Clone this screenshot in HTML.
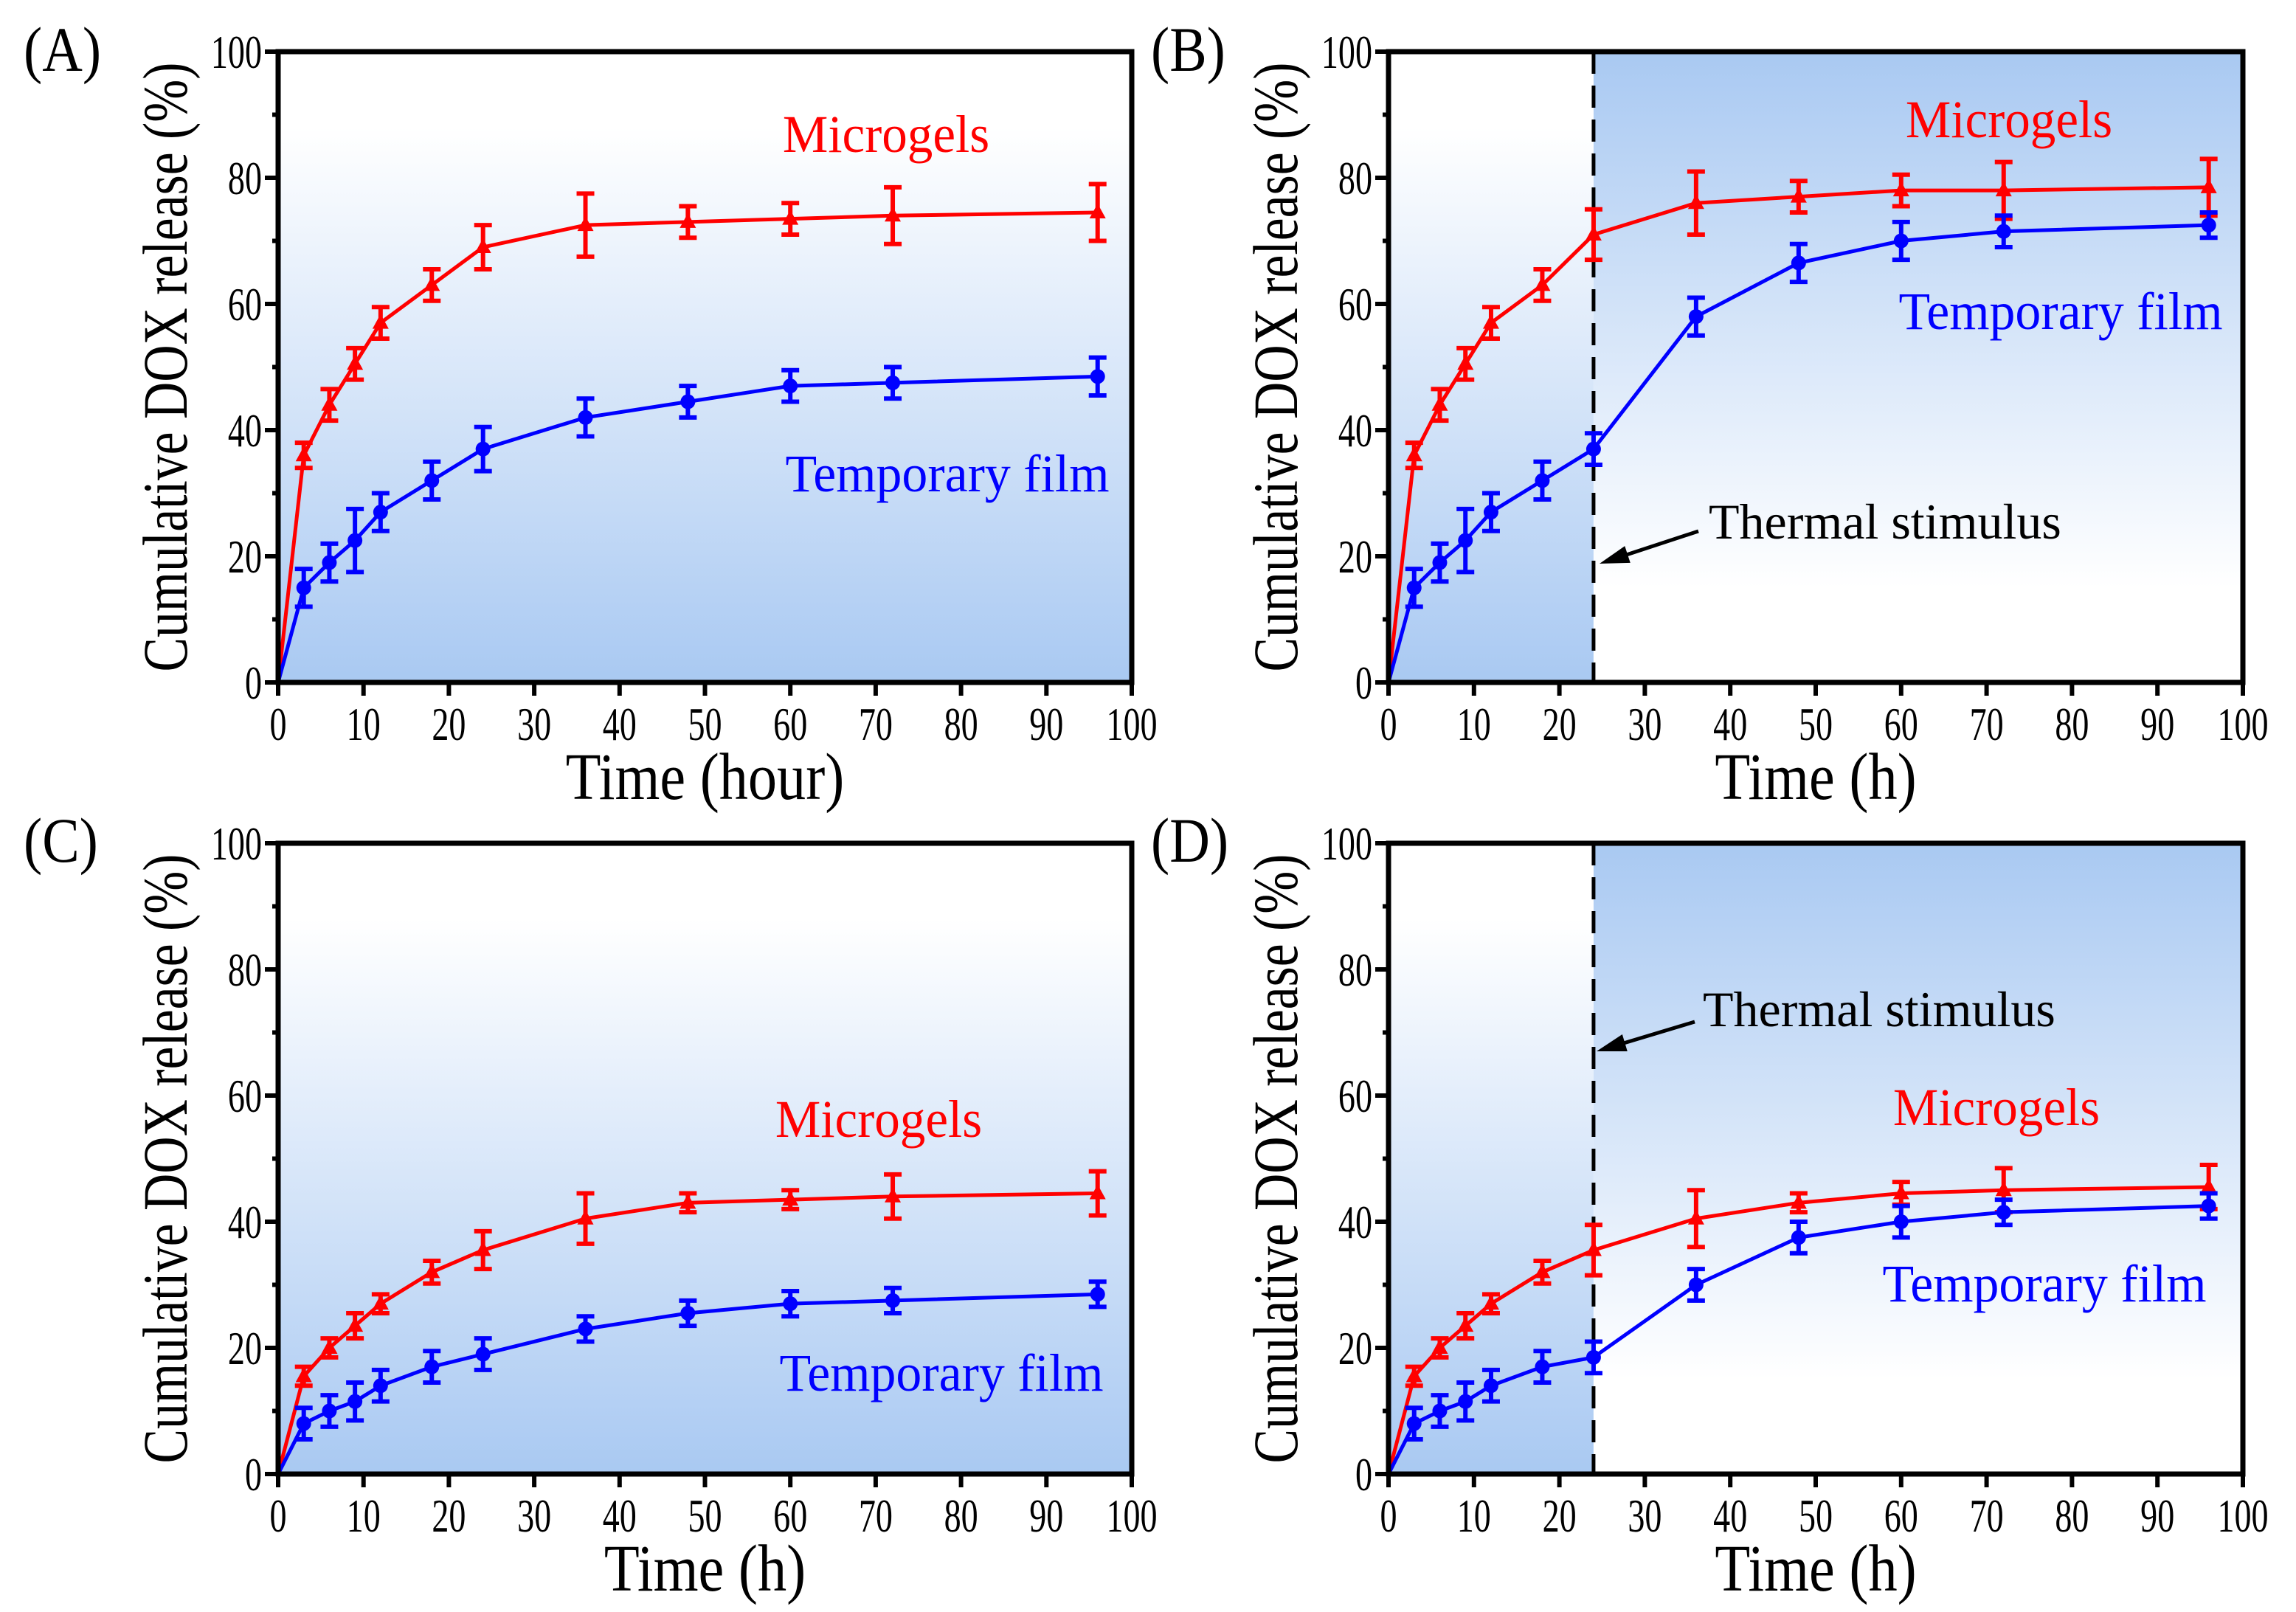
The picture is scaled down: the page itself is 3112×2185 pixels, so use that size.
<!DOCTYPE html>
<html><head><meta charset="utf-8">
<style>
html,body{margin:0;padding:0;background:#fff;}
svg{display:block;font-family:"Liberation Serif","DejaVu Serif",serif;}
</style></head>
<body>
<svg id="fig" width="3112" height="2185" viewBox="0 0 3112 2185" xmlns="http://www.w3.org/2000/svg">
<defs>
<linearGradient id="gUp" x1="0" y1="0" x2="0" y2="1">
<stop offset="0" stop-color="#ffffff"/><stop offset="0.12" stop-color="#ffffff"/><stop offset="1" stop-color="#a9c9f2"/>
</linearGradient>
<linearGradient id="gDown" x1="0" y1="0" x2="0" y2="1">
<stop offset="0" stop-color="#a9c9f2"/><stop offset="0.85" stop-color="#ffffff"/><stop offset="1" stop-color="#ffffff"/>
</linearGradient>
</defs>
</svg>
<script>
const times = [0,3,6,9,12,18,24,36,48,60,72,96];
const xTicks = [0,10,20,30,40,50,60,70,80,90,100];
const yTicks = [0,20,40,60,80,100];
const aRed = [0,36,44,50.5,57,63,69,72.5,73,73.5,74,74.5];
const aRedErr = [0,2,2.5,2.5,2.5,2.5,3.5,5,2.5,2.5,4.5,4.5];
const aBlue = [0,15,19,22.5,27,32,37,42,44.5,47,47.5,48.5];
const aBlueErr = [0,3,3,5,3,3,3.5,3,2.5,2.5,2.5,3];
const bRed = [0,36,44,50.5,57,63,71,76,77,78,78,78.5];
const bRedErr = [0,2,2.5,2.5,2.5,2.5,4,5,2.5,2.5,4.5,4.5];
const bBlue = [0,15,19,22.5,27,32,37,58,66.5,70,71.5,72.5];
const bBlueErr = [0,3,3,5,3,3,2.5,3,3,3,2.5,2];
const cRed = [0,15.5,20,23.5,27,32,35.5,40.5,43,43.5,44,44.5];
const cRedErr = [0,1.5,1.5,2,1.5,1.8,3,4,1.5,1.5,3.5,3.5];
const cBlue = [0,8,10,11.5,14,17,19,23,25.5,27,27.5,28.5];
const cBlueErr = [0,2.5,2.5,3,2.5,2.5,2.5,2,2,2,2,2];
const dRed = [0,15.5,20,23.5,27,32,35.5,40.5,43,44.5,45,45.5];
const dRedErr = [0,1.5,1.5,2,1.5,1.8,4,4.5,1.5,1.8,3.5,3.5];
const dBlue = [0,8,10,11.5,14,17,18.5,30,37.5,40,41.5,42.5];
const dBlueErr = [0,2.5,2.5,3,2.5,2.5,2.5,2.5,2.5,2.5,2,2];
const stimulusTime = 24;

const NS='http://www.w3.org/2000/svg';
const svg=document.getElementById('fig');
function mk(tag,attrs,parent){const e=document.createElementNS(NS,tag);for(const k in attrs)e.setAttribute(k,attrs[k]);(parent||svg).appendChild(e);return e;}
function txt(parent,x,y,str,size,anchor,fill,sx,rot){
  const t=mk('text',{x:0,y:0,'font-size':size,'text-anchor':anchor,fill:fill||'#000',
    transform:`translate(${x} ${y}) rotate(${rot||0}) scale(${sx} 1)`},parent);
  t.textContent=str;
  return t;
}

function panel(o){
  const g=mk('g',{});
  
  
  const L=o.L,R=o.R,T=o.T,B=o.B;
  const sx=v=>L+(R-L)*v/100, sy=v=>B-(B-T)*v/100;
  if(o.stim){
    const bg1=mk('rect',{x:L,y:T,width:sx(stimulusTime)-L,height:B-T,fill:'url(#gUp)'},g);
    
    
    const bg2=mk('rect',{x:sx(stimulusTime),y:T,width:R-sx(stimulusTime),height:B-T,fill:'url(#gDown)'},g);
    
    
    const dl=mk('line',{x1:sx(stimulusTime),x2:sx(stimulusTime),y1:T,y2:B,stroke:'#000','stroke-width':5,'stroke-dasharray':'30,16'},g);
    
    
  } else {
    const bg=mk('rect',{x:L,y:T,width:R-L,height:B-T,fill:'url(#gUp)'},g);
    
    
  }
  const series=[[o.red,o.redErr,'#ff0000','tri','microgels'],[o.blue,o.blueErr,'#0000ff','circ','temporary-film']];
  series.forEach(s=>{
    const [vals,errs,col,shape,name]=s;
    const pts=times.map((t,i)=>sx(t)+','+sy(vals[i])).join(' ');
    const pl=mk('polyline',{points:pts,fill:'none',stroke:col,'stroke-width':5},g);
    
    
    times.forEach((t,i)=>{
      if(i===0)return;
      const x=sx(t),y=sy(vals[i]),e=errs[i];
      const eg=mk('g',{stroke:col,'stroke-width':6},g);
      
      
      mk('line',{x1:x,x2:x,y1:sy(vals[i]+e),y2:sy(vals[i]-e)},eg);
      mk('line',{x1:x-12,x2:x+12,y1:sy(vals[i]+e),y2:sy(vals[i]+e)},eg);
      mk('line',{x1:x-12,x2:x+12,y1:sy(vals[i]-e),y2:sy(vals[i]-e)},eg);
      let m;
      if(shape==='tri') m=mk('polygon',{points:`${x},${y-12} ${x-11},${y+8} ${x+11},${y+8}`,fill:col},g);
      else m=mk('circle',{cx:x,cy:y,r:10,fill:col},g);
      
      
    });
  });
  const fr=mk('rect',{x:L,y:T,width:R-L,height:B-T,fill:'none',stroke:'#000','stroke-width':7},g);
  
  
  xTicks.forEach(v=>{
    const x=sx(v);
    const tk=mk('line',{x1:x,x2:x,y1:B,y2:B+18,stroke:'#000','stroke-width':6},g);
    
    
    const tl=txt(g,x,B+78,String(v),64,'middle','#000',0.72);
    
    
  });
  yTicks.forEach(v=>{
    const y=sy(v);
    const tk=mk('line',{x1:L-18,x2:L,y1:y,y2:y,stroke:'#000','stroke-width':6},g);
    
    
    const tl=txt(g,L-22,y+22,String(v),64,'end','#000',0.72);
    
    
    if(v<100){
      const mt=mk('line',{x1:L-8,x2:L,y1:sy(v+10),y2:sy(v+10),stroke:'#000','stroke-width':6},g);
      
      
    }
  });
  const xt=txt(g,(L+R)/2,B+158,o.xTitle,90,'middle','#000',0.87);
  
  
  const yt=txt(g,L-124,(T+B)/2,'Cumulative DOX release (%)',86,'middle','#000',0.81,-90);
  
  
  const pl=txt(g,o.lx,o.ly,'('+o.id+')',86,'start','#000',0.88);
  
  
  const mg=txt(g,o.mg[0],o.mg[1]+25,'Microgels',72,'middle','#ff0000',0.96);
  
  
  const tf=txt(g,o.tf[0],o.tf[1]+25,'Temporary film',72,'middle','#0000ff',0.97);
  
  
  if(o.th){
    const th=txt(g,o.th[0],o.th[1]+23,'Thermal stimulus',68,'start','#000',1.0);
    
    
    const [x1,y1,x2,y2]=o.ar;
    const ang=Math.atan2(y2-y1,x2-x1);
    const ln=mk('line',{x1:x1,y1:y1,x2:x2-Math.cos(ang)*30,y2:y2-Math.sin(ang)*30,stroke:'#000','stroke-width':5},g);
    
    
    const ax=x2-Math.cos(ang)*40, ay=y2-Math.sin(ang)*40, px=-Math.sin(ang)*12, py=Math.cos(ang)*12;
    const ah=mk('polygon',{points:`${x2},${y2} ${ax+px},${ay+py} ${ax-px},${ay-py}`,fill:'#000'},g);
    
    
  }
}
panel({id:'A',L:377,R:1534,T:70,B:925,red:aRed,redErr:aRedErr,blue:aBlue,blueErr:aBlueErr,xTitle:'Time (hour)',lx:32,ly:96,mg:[1201,181],tf:[1284,641]});
panel({id:'B',L:1882,R:3040,T:70,B:925,red:bRed,redErr:bRedErr,blue:bBlue,blueErr:bBlueErr,xTitle:'Time (h)',lx:1560,ly:96,mg:[2723,161],tf:[2793,421],stim:true,th:[2316,707],ar:[2302,720,2168,764]});
panel({id:'C',L:377,R:1534,T:1143,B:1998,red:cRed,redErr:cRedErr,blue:cBlue,blueErr:cBlueErr,xTitle:'Time (h)',lx:32,ly:1168,mg:[1191,1516],tf:[1276,1860]});
panel({id:'D',L:1882,R:3040,T:1143,B:1998,red:dRed,redErr:dRedErr,blue:dBlue,blueErr:dBlueErr,xTitle:'Time (h)',lx:1560,ly:1168,mg:[2706,1500],tf:[2771,1739],stim:true,th:[2308,1368],ar:[2297,1385,2164,1425]});
</script>
</body></html>
